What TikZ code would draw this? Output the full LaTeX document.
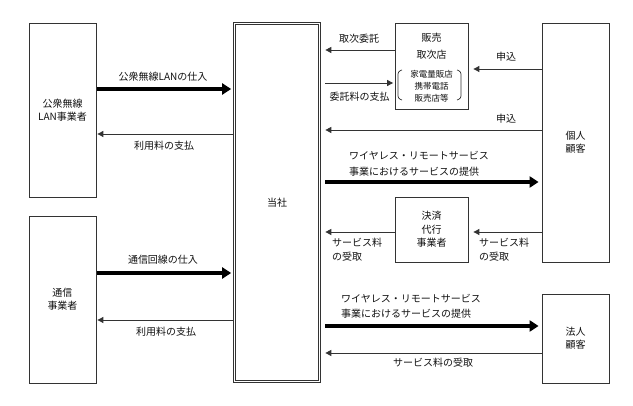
\documentclass[tikz,border=0pt]{standalone}
\usepackage{fontspec}
\setmainfont{Noto Sans CJK JP}
\usetikzlibrary{arrows.meta}
\definecolor{ln}{HTML}{333333}
\definecolor{tx}{HTML}{111111}
\begin{document}
\begin{tikzpicture}[x=1pt,y=-1pt,
  box/.style={draw=ln, line width=0.8pt, fill=white, align=center, inner sep=0pt, text=tx, font=\fontsize{10}{13}\selectfont},
  lbl/.style={inner sep=0pt, text=tx, font=\fontsize{10}{15}\selectfont, align=center},
  lbll/.style={lbl, anchor=west, align=left},
  thick arrow/.style={draw=black, line width=4pt, -{Triangle[length=9pt,width=11pt]}},
  thin arrow/.style={draw=ln, line width=0.9pt, -{Triangle[length=6pt,width=6pt]}}]
\useasboundingbox (0,0) rectangle (633,406);
\fill[white] (0,0) rectangle (633,406);

% boxes
\node[box, minimum width=67pt, minimum height=174pt] (lan) at (62.5,110) {公衆無線\\LAN事業者};
\node[box, minimum width=67pt, minimum height=167pt] (tsu) at (62.5,299.5) {通信\\事業者};
\node[box, draw=ln, line width=0.7pt, double, double distance=1.6pt, minimum width=85pt, minimum height=358pt] (tosha) at (277,202.5) {当社};
\node[box, minimum width=73pt, minimum height=86pt] (hanbai) at (431.5,66) {};
\node[box, minimum width=67pt, minimum height=239pt] (kojin) at (575.5,142.5) {個人\\顧客};
\node[box, minimum width=73pt, minimum height=65pt, font=\fontsize{10}{13.5}\selectfont] (kessai) at (431.5,229.5) {決済\\代行\\事業者};
\node[box, minimum width=67pt, minimum height=89pt] (hojin) at (575.5,338.5) {法人\\顧客};

% sales box contents
\node[lbl, font=\fontsize{10}{17}\selectfont] (hb1) at (431.5,46.5) {販売\\取次店};
\node[lbl, font=\fontsize{8.5}{12}\selectfont] (hb2) at (431.5,86) {家電量販店\\携帯電話\\販売店等};
\draw[ln, line width=0.7pt, rounded corners=2.5pt] (402,70) -- (398,71.5) -- (398,98.5) -- (402,100);
\draw[ln, line width=0.7pt, rounded corners=2.5pt] (457,70) -- (461,71.5) -- (461,98.5) -- (457,100);

% left side arrows
\draw[thick arrow, shorten <=1pt, shorten >=3pt] (lan.east |- 0,89) -- (tosha.west |- 0,89);
\draw[thin arrow, shorten <=1pt, shorten >=1pt] (tosha.west |- 0,134) -- (lan.east |- 0,134);
\draw[thick arrow, shorten <=1pt, shorten >=3pt] (tsu.east |- 0,273) -- (tosha.west |- 0,273);
\draw[thin arrow, shorten <=1pt, shorten >=1pt] (tosha.west |- 0,320) -- (tsu.east |- 0,320);

\node[lbl] (l1) at (163,77) {公衆無線LANの仕入};
\node[lbl] (l2) at (164,146) {利用料の支払};
\node[lbl] (l3) at (163,260) {通信回線の仕入};
\node[lbl] (l4) at (166,332) {利用料の支払};

% right side arrows
\draw[thin arrow, shorten >=5.5pt] (hanbai.west |- 0,50) -- (tosha.east |- 0,50);
\draw[thin arrow, shorten <=5.5pt, shorten >=1.5pt] (tosha.east |- 0,83) -- (hanbai.west |- 0,83);
\draw[thin arrow, shorten >=5pt] (kojin.west |- 0,69) -- (hanbai.east |- 0,69);
\draw[thin arrow, shorten >=5.5pt] (kojin.west |- 0,130) -- (tosha.east |- 0,130);
\draw[thick arrow, shorten <=5.5pt, shorten >=3pt] (tosha.east |- 0,182) -- (kojin.west |- 0,182);
\draw[thin arrow, shorten >=5.5pt] (kessai.west |- 0,232) -- (tosha.east |- 0,232);
\draw[thin arrow, shorten >=5pt] (kojin.west |- 0,232) -- (kessai.east |- 0,232);
\draw[thick arrow, shorten <=5.5pt, shorten >=3pt] (tosha.east |- 0,326) -- (hojin.west |- 0,326);
\draw[thin arrow, shorten >=5.5pt] (hojin.west |- 0,353) -- (tosha.east |- 0,353);

\node[lbl] (r1) at (359,39) {取次委託};
\node[lbl] (r2) at (359.5,97) {委託料の支払};
\node[lbl] (r3) at (506,57) {申込};
\node[lbl] (r4) at (506,119) {申込};
\node[lbll, font=\fontsize{10}{16}\selectfont] (r5) at (349,164) {ワイヤレス・リモートサービス\\事業におけるサービスの提供};
\node[lbll, font=\fontsize{10}{14}\selectfont] (r6) at (332,250) {サービス料\\の受取};
\node[lbll, font=\fontsize{10}{14}\selectfont] (r7) at (479,250) {サービス料\\の受取};
\node[lbll, font=\fontsize{10}{15}\selectfont] (r8) at (341,306.5) {ワイヤレス・リモートサービス\\事業におけるサービスの提供};
\node[lbl] (r9) at (433,363) {サービス料の受取};
\end{tikzpicture}
\end{document}
